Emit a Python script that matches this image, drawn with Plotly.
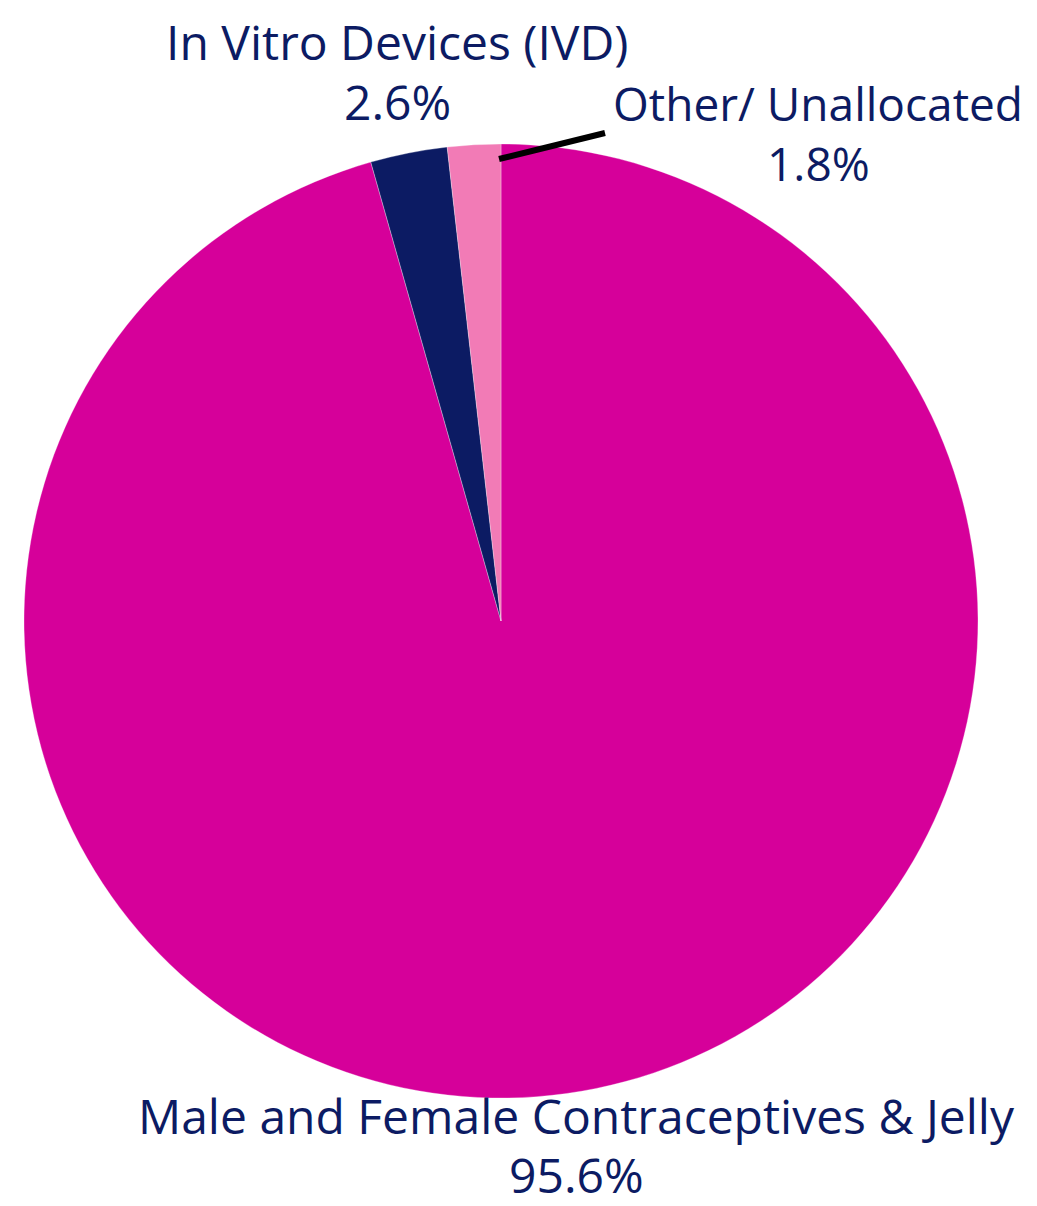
import plotly.graph_objects as go

categories = ["Male and Female Contraceptives & Jelly", "In Vitro Devices (IVD)", "Other/ Unallocated"]
values = [95.6, 2.6, 1.8]
colors = ["#D6009A", "#0C1B63", "#F27BB6"]

W, H = 1037, 1206
cx, cy, r = 493, 613, 477

fig = go.Figure(go.Pie(
    labels=categories,
    values=values,
    sort=False,
    direction="clockwise",
    rotation=0,
    marker=dict(colors=colors, line=dict(color="rgba(255,255,255,0.6)", width=0.5)),
    textinfo="none",
    hoverinfo="label+percent",
    showlegend=False,
    domain=dict(x=[(cx - r) / W, (cx + r) / W], y=[1 - (cy + r) / H, 1 - (cy - r) / H]),
))

# (x center, y of name line, y of value line, font size) in pixels
label_pos = [(568, 1107, 1166, 48), (389, 33, 94, 48), (810, 95, 155, 46)]
for name, v, (x, y1, y2, fs) in zip(categories, values, label_pos):
    font = dict(family="Open Sans, sans-serif", size=fs, color="#0C1B63")
    fig.add_annotation(x=x / W, y=1 - y1 / H, xref="paper", yref="paper",
                       text=name, showarrow=False, font=font,
                       xanchor="center", yanchor="middle")
    fig.add_annotation(x=x / W, y=1 - y2 / H, xref="paper", yref="paper",
                       text=f"{v:.1f}%", showarrow=False, font=font,
                       xanchor="center", yanchor="middle")

fig.add_shape(type="line", xref="paper", yref="paper",
              x0=491 / W, y0=1 - 151 / H, x1=597 / W, y1=1 - 125 / H,
              line=dict(color="black", width=6))

fig.update_layout(
    width=W, height=H,
    margin=dict(l=0, r=0, t=0, b=0),
    paper_bgcolor="white", plot_bgcolor="white",
)
fig.write_html("out.html")
